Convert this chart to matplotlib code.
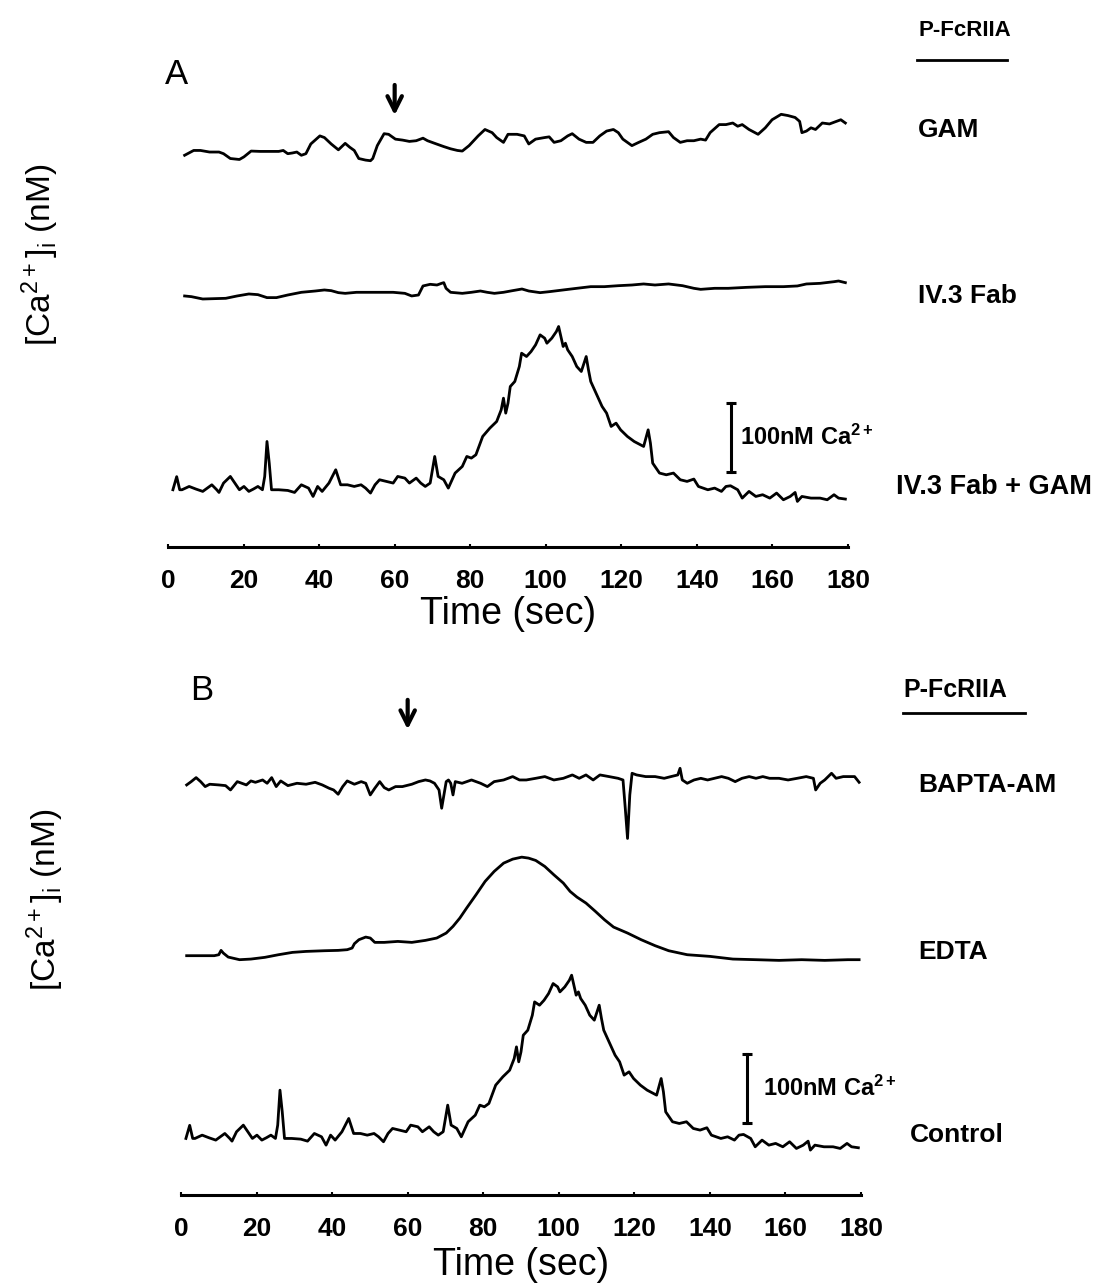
import numpy as np
import matplotlib
matplotlib.use('Agg')
import matplotlib.pyplot as plt

plt.rcParams['font.family'] = ['Liberation Sans', 'DejaVu Sans']
plt.rcParams['mathtext.default'] = 'regular'

# ---- data (time in sec, Ca2+ change in nM relative to each trace's baseline) ----
gam_t = [4.4, 6.8, 8.6, 11.0, 13.5, 14.7, 16.5, 18.9, 20.1, 22.0, 24.4, 26.8, 29.3, 30.5,
         31.7, 32.9, 34.1, 35.3, 36.5, 37.8, 40.2, 41.4, 43.2, 45.1, 46.9, 48.1, 49.3, 50.5,
         52.3, 53.6, 54.2, 55.4, 57.2, 58.4, 60.2, 62.1, 63.9, 65.7, 67.5, 68.7, 70.6, 73.0,
         74.8, 76.6, 77.9, 79.7, 82.1, 83.9, 85.8, 87.0, 88.8, 90.0, 92.4, 94.3, 95.5, 97.3,
         99.7, 100.9, 102.2, 104.0, 105.8, 107.0, 108.8, 110.7, 112.5, 114.3, 116.1, 117.9,
         119.2, 120.4, 122.8, 124.6, 126.5, 128.3, 130.1, 132.5, 133.8, 135.6, 137.4, 139.2,
         141.0, 142.3, 143.5, 145.9, 147.7, 149.5, 150.8, 152.0, 153.8, 156.2, 158.1, 159.9,
         162.3, 164.1, 166.0, 167.2, 167.8, 169.0, 170.2, 171.4, 173.2, 175.1, 176.9, 178.1, 179.3]
gam_v = [0, 7.0, 7.0, 4.7, 4.7, 2.3, -4.7, -6.1, -2.3, 6.1, 5.6, 5.6, 5.6, 7.0,
         2.3, 3.3, 4.7, 0, 2.3, 16.4, 28.1, 25.7, 16.4, 7.9, 17.3, 11.7, 7.0, -4.7,
         -7.0, -7.9, -4.7, 14.0, 31.3, 30.4, 23.4, 22.0, 20.1, 21.1, 24.8, 21.1, 17.3, 12.6,
         9.4, 7.0, 6.1, 14.0, 28.1, 37.4, 32.8, 25.7, 18.7, 30.4, 30.4, 28.1, 16.4, 23.4,
         25.7, 26.7, 18.7, 21.1, 28.1, 31.3, 23.4, 18.7, 18.7, 28.1, 35.1, 37.4,
         32.8, 23.4, 14.0, 18.7, 23.4, 30.4, 32.8, 34.2, 25.7, 18.7, 21.1, 21.1,
         23.4, 22.0, 32.8, 44.5, 44.5, 46.8, 42.1, 44.5, 37.4, 30.4, 39.8, 51.5,
         59.4, 57.6, 54.8, 49.1, 32.8, 35.1, 39.8, 37.4, 46.8, 45.4, 49.1, 51.5, 46.8]

fab_t = [4.4, 6.2, 9.2, 15.3, 18.3, 21.4, 23.8, 26.2, 28.7, 31.7, 35.3, 39.0, 41.4, 43.2,
         45.1, 46.9, 49.9, 54.8, 59.6, 62.7, 64.5, 66.3, 67.5, 69.4, 71.2, 72.4, 73.0, 73.6,
         74.8, 77.9, 80.3, 82.7, 84.5, 86.4, 88.8, 91.2, 93.7, 95.5, 98.5, 100.9, 104.6, 108.2,
         111.9, 115.5, 119.2, 122.8, 125.9, 128.9, 132.5, 136.2, 139.2, 141.0, 144.7, 148.3,
         153.2, 158.1, 162.9, 166.6, 169.0, 172.6, 176.3, 177.5, 179.3]
fab_v = [1.0, 0, -3.4, -2.4, 1.0, 3.9, 2.9, -1.4, -1.4, 2.4, 6.3, 8.2, 9.7, 8.7,
         5.8, 4.8, 6.3, 6.3, 6.3, 4.8, 1.0, 2.4, 15.5, 17.9, 16.9, 19.3, 20.3, 12.1,
         6.3, 4.8, 6.3, 8.2, 6.3, 4.8, 6.3, 8.7, 11.1, 8.2, 5.8, 7.2, 9.7, 12.1,
         14.5, 14.5, 15.9, 16.9, 18.4, 16.9, 18.4, 15.9, 12.1, 10.6, 12.1, 12.1,
         13.5, 14.5, 14.5, 15.5, 18.4, 19.3, 21.7, 22.7, 20.3]

# IV.3 Fab + GAM (panel A) and Control (panel B) are the same recording
ctrl_t = [1.3, 2.3, 3.1, 3.7, 5.6, 7.4, 9.2, 10.4, 11.6, 12.9, 13.5, 14.7, 16.5, 17.7, 18.9,
          20.1, 21.4, 22.6, 23.8, 25.0, 25.6, 26.2, 26.8, 27.4, 29.3, 31.7, 33.5, 35.3, 37.2,
          38.4, 39.6, 40.8, 42.6, 44.4, 45.7, 47.5, 49.3, 51.1, 52.3, 53.6, 54.8, 56.0, 57.8,
          59.6, 60.8, 62.7, 63.9, 65.7, 66.9, 68.1, 69.4, 70.6, 71.5, 73.0, 74.2, 76.0, 77.9,
          79.1, 80.3, 81.5, 83.3, 85.2, 87.0, 88.2, 88.8, 89.4, 90.0, 90.6, 91.8, 93.0, 93.6,
          94.9, 96.1, 97.3, 98.5, 99.7, 100.3, 101.6, 102.8, 103.4, 104.0, 104.6, 105.2, 105.8,
          107.0, 108.2, 109.4, 110.7, 111.3, 111.9, 113.7, 114.9, 116.1, 117.3, 118.6, 119.8,
          121.6, 123.4, 125.9, 127.1, 127.7, 128.3, 130.1, 131.9, 133.8, 135.6, 137.4, 139.2,
          140.4, 142.9, 144.7, 146.5, 147.7, 148.9, 150.8, 152.0, 153.8, 155.6, 157.4, 159.3,
          161.1, 162.9, 164.7, 166.0, 166.6, 167.8, 170.2, 172.6, 174.5, 176.3, 177.5, 179.3]
ctrl_v = [0, 19, 0, 0, 4.8, 1, -2.4, 2.4, 7.2, 0, -3.9, 9.7, 19.3, 9.7, 0,
          4.8, -2.4, 1, 4.8, 0, 19.3, 70, 38.6, 0, 0, -1, -3.9, 7.2, 2.4,
          -9.7, 4.8, -2.4, 9.7, 29, 7.2, 7.2, 4.8, 7.2, 2.4, -4.8, 7.2, 14.5, 12.1,
          9.7, 19.3, 16.9, 9.7, 16.9, 9.7, 4.8, 9.7, 48.3, 19.3, 14.5, 2.4, 24.2, 33.8,
          48.3, 45.9, 50.7, 77.3, 89.4, 99.0, 115.9, 132.8, 111.1, 125.6, 149.7, 157.0, 178.7, 198.0,
          193.2, 200.4, 210.1, 224.6, 219.8, 212.5, 219.8, 229.4, 236.7, 222.2, 207.7, 212.5, 202.9,
          193.2, 178.7, 171.5, 193.2, 173.9, 157.0, 135.2, 120.8, 111.1, 91.8, 96.6, 86.9,
          77.3, 70.0, 62.8, 86.9, 67.6, 38.6, 24.2, 21.7, 24.2, 14.5, 12.1, 15.5,
          4.8, 0, 2.4, -2.4, 4.8, 5.8, 0, -12.1, -2.4, -9.7, -7.2, -12.1,
          -4.8, -14.5, -9.7, -3.9, -16.9, -9.7, -12.1, -12.1, -14.5, -7.2, -12.1, -13.5]

bapta_t = [1.5, 2.7, 4.0, 5.2, 6.4, 7.6, 10.0, 11.8, 13.1, 14.9, 16.1, 17.3, 18.5, 19.7, 21.6,
           22.8, 24.0, 25.2, 26.4, 28.3, 30.7, 33.1, 35.5, 37.4, 39.2, 40.4, 41.6, 42.8, 44.0,
           45.9, 47.7, 48.9, 50.1, 51.3, 52.6, 53.8, 55.0, 56.8, 58.6, 61.1, 62.9, 64.7, 65.9,
           67.1, 68.3, 69.0, 69.6, 70.2, 70.8, 71.4, 72.0, 72.6, 74.4, 76.9, 79.3, 81.1, 82.9,
           85.4, 87.8, 89.6, 91.4, 93.9, 96.3, 98.7, 101.2, 103.6, 105.4, 107.2, 109.1, 110.9,
           113.3, 115.7, 117.0, 117.6, 118.2, 118.8, 119.4, 120.6, 123.0, 125.5, 127.9, 129.7,
           131.5, 132.1, 132.7, 134.0, 135.8, 137.6, 139.4, 141.2, 143.1, 144.9, 146.7, 148.5,
           150.4, 152.2, 154.0, 155.8, 158.3, 160.7, 163.1, 165.5, 167.4, 168.0, 169.2, 170.4,
           172.2, 173.4, 175.3, 177.1, 178.3, 179.5]
bapta_v = [-2.4, 2.4, 8.2, 2.4, -4.8, -1.4, -2.4, -3.4, -9.7, 2.4, 0, -2.4, 3.4, 1.4, 4.8,
           0, 8.2, -4.8, 3.4, -3.4, 0, -1.4, 1.4, -2.4, -7.2, -9.7, -15.9, -4.8, 3.4,
           -1.4, 2.4, 0, -16.9, -7.2, 2.4, -6.3, -9.7, -4.8, -4.8, -1.4, 2.4, 4.8, 3.4,
           0, -9.7, -36.2, -16.9, 2.4, 4.8, 0, -16.9, 2.4, 0, 4.8, 0, -4.8, 2.4,
           4.8, 9.7, 4.8, 4.8, 7.2, 9.7, 4.8, 7.2, 12.1, 7.2, 12.1, 4.8, 12.1,
           9.7, 7.2, 4.8, -36.2, -80, -16.9, 14.5, 12.1, 9.7, 9.7, 7.2, 9.7,
           12.1, 21.7, 4.8, 0, 4.8, 7.2, 4.8, 7.2, 9.7, 7.2, 2.4, 7.2,
           9.7, 7.2, 9.7, 7.2, 7.2, 4.8, 7.2, 9.7, 7.2, -9.7, 0, 4.8,
           14.5, 7.2, 9.7, 9.7, 9.7, 1.4]

edta_t = [1.5, 5.2, 8.8, 10.0, 10.6, 11.2, 12.5, 15.5, 18.5, 22.2, 25.8, 29.5, 33.1, 38.0,
          41.6, 44.0, 45.3, 45.9, 47.1, 48.9, 50.1, 51.3, 53.8, 57.4, 61.1, 64.7, 67.7, 70.2,
          72.0, 73.8, 75.6, 78.1, 80.5, 82.9, 85.4, 87.8, 90.2, 92.0, 93.9, 96.3, 98.7, 101.2,
          103.0, 104.8, 107.2, 109.7, 112.1, 114.5, 118.2, 121.8, 125.5, 129.1, 134.0, 140.0,
          146.1, 152.2, 158.3, 164.3, 170.4, 176.5, 179.5]
edta_v = [1.0, 1.0, 1.0, 2.4, 8.7, 4.8, -1.0, -4.8, -3.9, -1.4, 2.4, 5.8, 7.2, 8.2,
          8.7, 9.7, 12.1, 18.4, 24.2, 28.0, 26.6, 20.3, 20.3, 21.7, 20.3, 23.2, 26.6, 33.8,
          43.5, 55.5, 70.0, 89.4, 108.7, 123.2, 135.2, 141.0, 143.9, 142.5, 139.1, 130.4, 118.3, 106.3,
          94.2, 86.0, 77.3, 65.2, 53.1, 42.5, 33.8, 24.2, 15.5, 8.2, 2.4, 0,
          -3.9, -4.8, -5.8, -4.8, -5.8, -4.8, -4.8]

ticks = np.arange(0, 181, 20)
scale_nm = 100

# ---- layout helpers (figure pixels -> figure fraction) ----
W, H = 1109, 1286
NM_PER_PX = 1.45


def fx(x):
    return x / W


def fy(y):
    return 1 - y / H


fig = plt.figure(figsize=(W / 100, H / 100), dpi=100)


def make_axes(left, axis_y, top_y, xlabelpad):
    ax = fig.add_axes([fx(left), fy(axis_y), fx(680), (axis_y - top_y) / H])
    ax.set_xlim(0, 180)
    ax.set_ylim(0, (axis_y - top_y) * NM_PER_PX)
    for s in ['top', 'right', 'left']:
        ax.spines[s].set_visible(False)
    ax.spines['bottom'].set_linewidth(2.2)
    ax.set_yticks([])
    ax.set_xticks(ticks)
    ax.tick_params(axis='x', direction='in', length=2, width=1.5, pad=16,
                   labelsize=19)
    for lab in ax.get_xticklabels():
        lab.set_fontweight('bold')
    ax.set_xlabel('Time (sec)', fontsize=27, labelpad=xlabelpad)
    return ax


def scale_bar(ax, t, y0):
    ax.plot([t, t], [y0, y0 + scale_nm], color='black', lw=2.2,
            marker='_', markersize=7, markeredgewidth=2.2)


lw = 2.0
arrow_props = dict(arrowstyle='->', lw=3, mutation_scale=26, color='black')

# ---- panel A ----
axA = make_axes(168, 547, 60, 2)
axA.plot(gam_t, np.array(gam_v) + 568, color='black', lw=lw)
axA.plot(fab_t, np.array(fab_v) + 363, color='black', lw=lw)
axA.plot(ctrl_t, np.array(ctrl_v) + 83, color='black', lw=lw)
scale_bar(axA, 149, 109)
axA.annotate('', xy=(60, 622), xytext=(60, 674), arrowprops=arrow_props,
             annotation_clip=False)
axA.text(151.5, 159, r'100nM Ca$^{2+}$', fontsize=17, fontweight='bold', va='center')

fig.text(fx(165), fy(75), 'A', fontsize=25, va='center')
fig.text(fx(918), fy(30), 'P-FcRIIA', fontsize=16, fontweight='bold', va='center')
fig.add_artist(plt.Line2D([fx(917), fx(1007)], [fy(60), fy(60)], color='black', lw=2))
fig.text(fx(918), fy(130), 'GAM', fontsize=19, fontweight='bold', va='center')
fig.text(fx(918), fy(296), 'IV.3 Fab', fontsize=19, fontweight='bold', va='center')
fig.text(fx(896), fy(487), 'IV.3 Fab + GAM', fontsize=19.5, fontweight='bold', va='center')
fig.text(fx(40), fy(255), r'[Ca$^{2+}$]$_i$ (nM)', fontsize=24, rotation=90,
         ha='center', va='center')

# ---- panel B ----
axB = make_axes(181, 1195, 700, 4)
axB.plot(bapta_t, np.array(bapta_v) + 597, color='black', lw=lw)
axB.plot(edta_t, np.array(edta_v) + 346, color='black', lw=lw)
axB.plot(ctrl_t, np.array(ctrl_v) + 82, color='black', lw=lw)
scale_bar(axB, 149.8, 105)
axB.annotate('', xy=(60, 671), xytext=(60, 722), arrowprops=arrow_props,
             annotation_clip=False)
axB.text(154, 155, r'100nM Ca$^{2+}$', fontsize=17, fontweight='bold', va='center')

fig.text(fx(190), fy(690), 'B', fontsize=25, va='center')
fig.text(fx(903), fy(690), 'P-FcRIIA', fontsize=18, fontweight='bold', va='center')
fig.add_artist(plt.Line2D([fx(903), fx(1025)], [fy(713), fy(713)], color='black', lw=2))
fig.text(fx(918), fy(785), 'BAPTA-AM', fontsize=19, fontweight='bold', va='center')
fig.text(fx(918), fy(952), 'EDTA', fontsize=19, fontweight='bold', va='center')
fig.text(fx(910), fy(1135), 'Control', fontsize=19, fontweight='bold', va='center')
fig.text(fx(45), fy(900), r'[Ca$^{2+}$]$_i$ (nM)', fontsize=24, rotation=90,
         ha='center', va='center')

fig.savefig('out.png', dpi=100, facecolor='white')
